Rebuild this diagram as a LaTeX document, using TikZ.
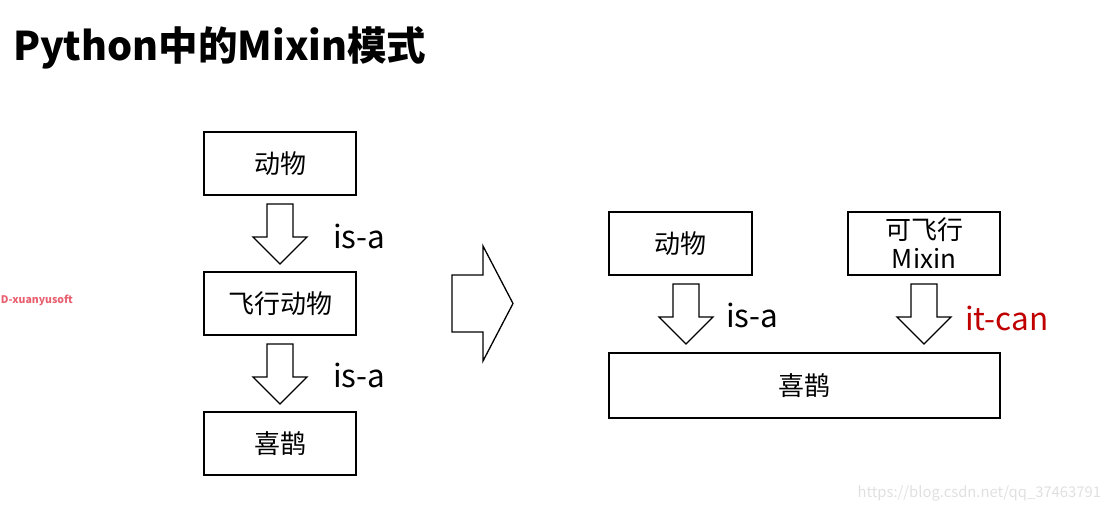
\documentclass[tikz,border=0pt]{standalone}
\usepackage{fontspec}
\setmainfont{Noto Sans CJK SC}
\usetikzlibrary{positioning}
\definecolor{canred}{RGB}{192,0,0}
\definecolor{markpink}{RGB}{232,96,112}
\tikzset{node distance=77pt, % gap between the stacked boxes
         every node/.style={ % plain text everywhere
           inner sep=0pt, outer sep=0pt,
           font=\fontsize{26}{29}\selectfont},
         box/.style={ % one class
           draw, line width=1.3pt,
           minimum width=152pt, minimum height=63pt},
         rel/.style={ % is-a / it-can labels
           anchor=west,
           font=\fontsize{31.5}{31.5}\selectfont},
         downarrow/.pic={ % hollow block arrow, points down
           \draw[line width=1.3pt] (-13,0) -- (13,0) -- (13,33) -- (27,33)
             -- (0,60) -- (-27,33) -- (-13,33) -- cycle;}}

\begin{document}
\begin{tikzpicture}[x=1pt,y=-1pt]
\useasboundingbox (0,0) rectangle (1108,511);

\node[anchor=west, font=\bfseries\fontsize{39.5}{39.5}\selectfont] (title) at (13,48) {Python中的Mixin模式};
\node[anchor=west, text=markpink, font=\bfseries\fontsize{10.5}{10.5}\selectfont] (mark) at (1,300) {D-xuanyusoft};

% single inheritance
\node[box] (animal) at (280,163.5) {动物};
\node[box, below=of animal] (flyer) {飞行动物};
\node[box, below=of flyer] (magpie) {喜鹊};

\pic at ([yshift=-9pt]animal.south) {downarrow};
\pic at ([yshift=-9pt]flyer.south) {downarrow};
\node[rel] (isa1) at (333,236) {is-a};
\node[rel] (isa2) at (333,375) {is-a};

% becomes
\draw[line width=1.3pt] (452,275) -- (483,275) -- (483,246) -- (513,303.5)
  -- (483,361) -- (483,332) -- (452,332) -- cycle;

% mixin
\node[box, minimum width=143pt] (animal2) at (680.5,243.5) {动物};
\node[box, align=center] (mixin) at (924,243.5) {可飞行\\Mixin};
\node[box, minimum width=391pt, minimum height=65pt] (magpie2) at (804.5,385.5) {喜鹊};

\pic at (686,284) {downarrow};
\pic at ([yshift=-9pt]mixin.south) {downarrow};
\node[rel] (isa3) at (726,315) {is-a};
\node[rel, text=canred] (itcan) at (965,318) {it-can};

\node[anchor=east, text=black!12, font=\fontsize{14.8}{14.8}\selectfont] (url) at (1101,493) {https://blog.csdn.net/qq\_37463791};
\end{tikzpicture}
\end{document}
